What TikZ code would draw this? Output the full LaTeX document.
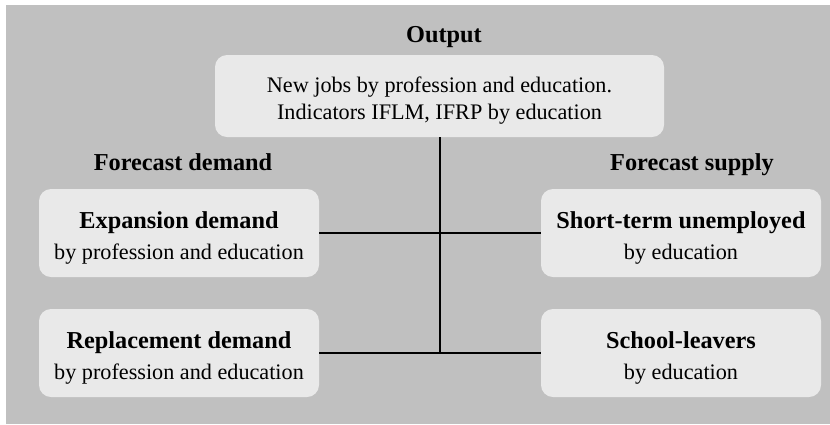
\documentclass[tikz,border=0pt]{standalone}
\usepackage{fontspec}
\setmainfont{Liberation Serif}
\definecolor{bggray}{HTML}{C0C0C0}
\definecolor{boxgray}{HTML}{E9E9E9}
\tikzset{
  infobox/.style={rounded corners=12pt, fill=boxgray, draw=none, align=center,
    minimum width=280pt, minimum height=88pt, inner sep=0pt,
    font=\fontsize{22.2}{31}\selectfont},
  topbox/.style={rounded corners=12pt, fill=boxgray, draw=none, align=center,
    minimum width=449pt, minimum height=82pt, inner sep=0pt,
    font=\fontsize{22.2}{27}\selectfont},
  heading/.style={anchor=base, inner sep=0pt, font=\fontsize{24.3}{29}\selectfont\bfseries},
  link/.style={draw=black, line width=2pt}
}
\newcommand{\boxtitle}[1]{{\fontsize{24.3}{31}\selectfont\bfseries\rule{0pt}{26pt}#1}}
\begin{document}
\begin{tikzpicture}[x=1pt,y=-1pt]
\useasboundingbox (0,0) rectangle (830,424);
\fill[bggray] (6,5) rectangle (830,424);
\node[heading] (hout) at (444,42) {Output};
\node[heading] (hdem) at (183,170) {Forecast demand};
\node[heading] (hsup) at (692,170) {Forecast supply};
\node[topbox] (out) at (439.5,96) {\rule{0pt}{24pt}New jobs by profession and education.\\Indicators IFLM, IFRP by education};
\node[infobox] (exp) at (179,233) {\boxtitle{Expansion demand}\\by profession and education};
\node[infobox] (rep) at (179,353) {\boxtitle{Replacement demand}\\by profession and education};
\node[infobox] (stu) at (681,233) {\boxtitle{Short-term unemployed}\\by education};
\node[infobox] (sch) at (681,353) {\boxtitle{School-leavers}\\by education};
\coordinate (jn) at (out.south |- rep.east);
\draw[link] (exp.east) -- (stu.west);
\draw[link] (rep.east) -- (sch.west);
\draw[link] (out.south) -- (jn);
\end{tikzpicture}
\end{document}
